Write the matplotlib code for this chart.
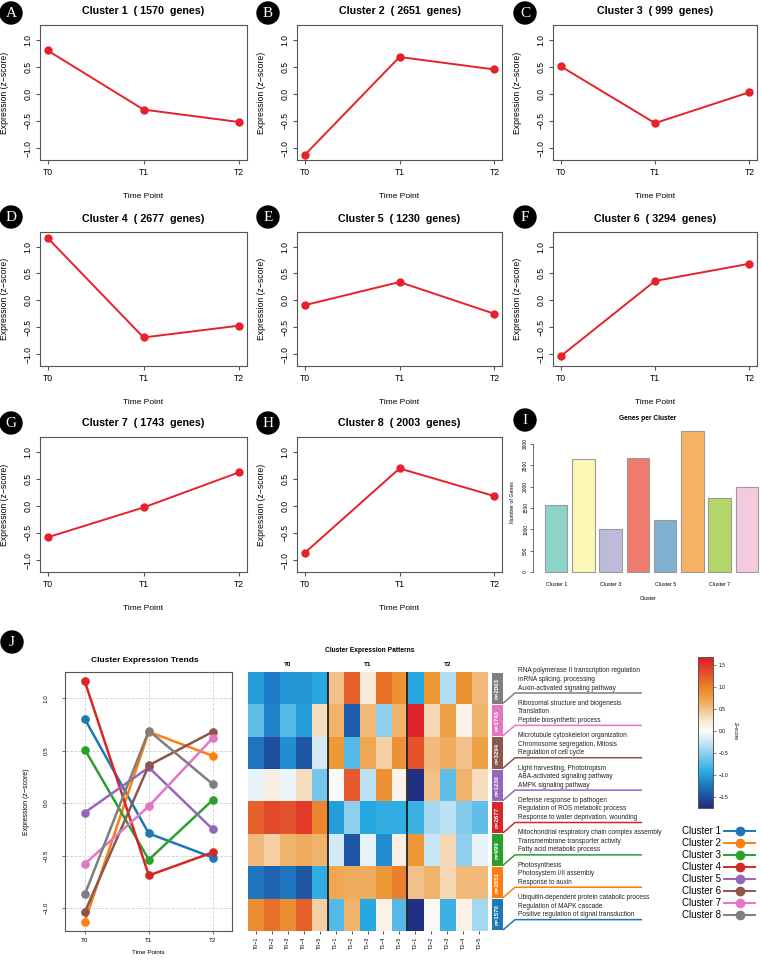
import numpy as np
import matplotlib
matplotlib.use('Agg')
import matplotlib.pyplot as plt
from matplotlib.colors import LinearSegmentedColormap, Normalize
from matplotlib.patches import Rectangle, Circle
from matplotlib.cm import ScalarMappable

plt.rcParams['font.family'] = ['Liberation Sans', 'DejaVu Sans']

W, H = 761, 965

# ---- data ----
time_points = ['T0', 'T1', 'T2']
cluster_names = ['Cluster %d' % i for i in range(1, 9)]
gene_counts = [1570, 2651, 999, 2677, 1230, 3294, 1743, 2003]
cluster_means = [
    [0.80, -0.29, -0.52],
    [-1.13, 0.68, 0.45],
    [0.51, -0.54, 0.03],
    [1.16, -0.69, -0.47],
    [-0.09, 0.34, -0.25],
    [-1.04, 0.36, 0.68],
    [-0.58, -0.03, 0.62],
    [-0.87, 0.69, 0.18],
]
cluster_colors = ['#1f77b4', '#ff7f0e', '#2ca02c', '#d62728',
                  '#9467bd', '#8c564b', '#e377c2', '#7f7f7f']
bar_colors = ['#8dd3c7', '#fbf7b5', '#bebada', '#ef7b6f',
              '#80b1d3', '#f6b262', '#b3d66a', '#f6cade']
sample_labels = ['T%d-%d' % (t, r) for t in range(3) for r in range(1, 6)]
heat_c1 = [0.9, 1.1, 0.9, 1.2, 0.4, -0.75, 0.6, -0.95, 0.1, -0.75, -1.7, 0.02, -0.85, 0.1, -0.4]
heat_c2 = [-1.25, -1.35, -1.25, -1.45, -0.9, 0.7, 0.65, 0.65, 0.8, 1.0, 0.5, 0.6, 0.35, 0.55, 0.55]
heat_c3 = [0.55, 0.4, 0.6, 0.65, 0.6, -0.2, -1.45, -0.1, -1.1, 0.15, 0.8, -0.25, 0.35, -0.5, -0.1]
heat_c4 = [1.2, 1.35, 1.3, 1.45, 0.95, -1.0, -0.5, -0.95, -0.9, -0.9, -0.85, -0.4, -0.3, -0.55, -0.7]
heat_c5 = [-0.1, 0.15, -0.08, 0.3, -0.6, 0.0, 1.25, -0.3, 0.85, 0.08, -1.7, 0.5, -0.7, 0.6, 0.3]
heat_c6 = [-1.25, -1.5, -1.1, -1.45, -0.2, 0.8, -0.75, 0.7, 0.4, 0.85, 1.3, 0.55, 0.65, 0.5, 0.75]
heat_c7 = [-0.7, -1.15, -0.75, -1.0, 0.3, 0.6, -1.4, 0.55, -0.5, 0.6, 1.6, 0.35, 0.75, 0.1, 0.6]
heat_c8 = [-1.0, -1.2, -1.05, -1.05, -0.95, 0.5, 1.2, 0.2, 1.1, 0.85, -0.95, 0.8, -0.35, 0.85, 0.55]
go_terms = [
    ['Ubiquitin-dependent protein catabolic process', 'Regulation of MAPK cascade',
     'Positive regulation of signal transduction'],
    ['Photosynthesis', 'Photosystem I/II assembly', 'Response to auxin'],
    ['Mitochondrial respiratory chain complex assembly', 'Transmembrane transporter activity',
     'Fatty acid metabolic process'],
    ['Defense response to pathogen', 'Regulation of ROS metabolic process',
     'Response to water deprivation, wounding'],
    ['Light harvesting, Phototropism', 'ABA-activated signaling pathway', 'AMPK signaling pathway'],
    ['Microtubule cytoskeleton organization', 'Chromosome segregation, Mitosis',
     'Regulation of cell cycle'],
    ['Ribosomal structure and biogenesis', 'Translation', 'Peptide biosynthetic process'],
    ['RNA polymerase II transcription regulation', 'mRNA splicing, processing',
     'Auxin-activated signaling pathway'],
]
z_ticks = [-1.0, -0.5, 0.0, 0.5, 1.0]
z_ticklabels = ['\u22121.0', '\u22120.5', '0.0', '0.5', '1.0']
cb_ticks = [-1.5, -1.0, -0.5, 0.0, 0.5, 1.0, 1.5]
cb_ticklabels = ['\u22121.5', '\u22121.0', '\u22120.5', '0.0', '0.5', '1.0', '1.5']

heat = np.array([heat_c1, heat_c2, heat_c3, heat_c4, heat_c5, heat_c6, heat_c7, heat_c8])

SP = '#555555'


def box(x0, y0, x1, y1):
    return [x0 / W, 1 - y1 / H, (x1 - x0) / W, (y1 - y0) / H]


def ftext(x, y, s, **kw):
    kw.setdefault('ha', 'center')
    kw.setdefault('va', 'center')
    fig.text(x / W, 1 - y / H, s, **kw)


fig = plt.figure(figsize=(W / 100, H / 100), dpi=100)

# ---- single cluster panels A-H ----
cols_x = [(40, 247), (297, 502), (553, 757)]
rows_y = [(25, 160), (232, 366), (437, 572)]
for k in range(8):
    r, c = divmod(k, 3)
    x0, x1 = cols_x[c]
    y0, y1 = rows_y[r]
    ax = fig.add_axes(box(x0, y0, x1, y1))
    ax.plot([1, 2, 3], cluster_means[k], color='#e8202a', lw=1.4, marker='o', ms=5)
    ax.set_xlim(0.92, 3.08)
    ax.set_ylim(-1.22, 1.27)
    ax.set_xticks([1, 2, 3], time_points)
    ax.set_yticks(z_ticks, z_ticklabels, rotation=90, va='center')
    ax.tick_params(labelsize=6.2, length=3, color=SP, pad=2.5)
    for s in ax.spines.values():
        s.set_color(SP)
    ftext((x0 + x1) / 2, y0 - 13.5, 'Cluster %d  ( %d  genes)' % (k + 1, gene_counts[k]),
          fontsize=7.7, fontweight='bold')
    ftext((x0 + x1) / 2, y1 + 36, 'Time Point', fontsize=6)
    ftext(x0 - 35, (y0 + y1) / 2, 'Expression (z\u2212score)', fontsize=6.2, rotation=90)

# ---- panel I: genes per cluster ----
axb = fig.add_axes(box(533, 430, 760, 576))
xb = np.arange(8)
axb.bar(xb, gene_counts, width=0.82, color=bar_colors, edgecolor='#9a9a9a', lw=0.8)
axb.set_xlim(-0.85, 7.48)
axb.set_ylim(-94, 3328)
for s in ['top', 'right', 'bottom']:
    axb.spines[s].set_visible(False)
axb.spines['left'].set_bounds(0, 3000)
axb.spines['left'].set_color(SP)
axb.spines['left'].set_linewidth(0.6)
axb.set_yticks(range(0, 3001, 500), [str(v) for v in range(0, 3001, 500)], rotation=90, va='center')
axb.set_xticks(xb[::2], cluster_names[::2])
axb.tick_params(axis='y', labelsize=3.5, length=2, color=SP, width=0.6, pad=1.5)
axb.tick_params(axis='x', labelsize=3.8, length=0, pad=4)
ftext(648, 418, 'Genes per Cluster', fontsize=4.8, fontweight='bold')
ftext(648, 598, 'Cluster', fontsize=3.8)
ftext(513, 502, 'Number of Genes', fontsize=3.8, rotation=90)

# ---- panel J: trends ----
axt = fig.add_axes(box(65, 672, 232, 931))
for k in range(8):
    axt.plot([1, 2, 3], cluster_means[k], color=cluster_colors[k], lw=1.8, marker='o', ms=5.2)
axt.set_xlim(0.69, 3.3)
axt.set_ylim(-1.22, 1.25)
axt.set_xticks([1, 2, 3], time_points)
axt.set_yticks(z_ticks, z_ticklabels, rotation=90, va='center')
axt.grid(True, ls='--', color='#d0d0d0', lw=0.6)
axt.set_axisbelow(True)
axt.tick_params(labelsize=4.5, length=2, color=SP, width=0.6)
axt.tick_params(axis='y', pad=10)
axt.tick_params(axis='x', pad=3)
for s in axt.spines.values():
    s.set_color(SP)
    s.set_linewidth(0.8)
ftext(145, 661, 'Cluster Expression Trends', fontsize=6, fontweight='bold')
ftext(27, 802, 'Expression (z\u2212score)', fontsize=5, rotation=90)
ftext(148, 952, 'Time Points', fontsize=4.5)

# ---- heatmap ----
node_vals = [-1.75, -1.5, -1.2, -0.95, -0.5, -0.2, 0.0, 0.25, 0.5, 0.8, 1.05, 1.3, 1.68]
node_cols = ['#232a7e', '#1e50a0', '#1f7cc6', '#27a9e1', '#8fcfee', '#d4ebf7', '#fbfbfb',
             '#f9e6d0', '#f2c189', '#ee9a38', '#ea7a2a', '#e4532a', '#e0192a']
vmin, vmax = node_vals[0], node_vals[-1]
cmap = LinearSegmentedColormap.from_list(
    'zs', list(zip([(v - vmin) / (vmax - vmin) for v in node_vals], node_cols)))
norm = Normalize(vmin, vmax)

axh = fig.add_axes(box(248, 672, 487, 931))
axh.imshow(heat[::-1], cmap=cmap, norm=norm, aspect='auto', interpolation='nearest')
axh.axvline(4.5, color='#111111', lw=1.2)
axh.axvline(9.5, color='#111111', lw=1.2)
for s in axh.spines.values():
    s.set_visible(False)
axh.set_yticks([])
axh.set_xticks(range(15), [s.replace('-', '\u2212') for s in sample_labels], rotation=90)
axh.tick_params(axis='x', labelsize=3.8, length=2.5, width=0.6, color='#333333', pad=1.5)
ftext(370, 650, 'Cluster Expression Patterns', fontsize=4.8, fontweight='bold')
for g in range(3):
    ftext(248 + (2.5 + 5 * g) * 239 / 15, 665, time_points[g], fontsize=4.6, fontweight='bold')

# ---- colorbar ----
cax = fig.add_axes(box(698, 657, 713, 808))
cb = fig.colorbar(ScalarMappable(norm=norm, cmap=cmap), cax=cax)
cb.set_ticks(cb_ticks, labels=cb_ticklabels)
cb.outline.set_edgecolor(SP)
cb.outline.set_linewidth(0.7)
cax.tick_params(labelsize=3.5, length=2, width=0.5, color=SP, pad=2)
ftext(735, 731, 'Z\u2212score', fontsize=3.5, rotation=270)

# ---- overlay: strip, GO terms, legend, panel letters ----
ov = fig.add_axes([0, 0, 1, 1])
ov.set_xlim(0, W)
ov.set_ylim(H, 0)
ov.axis('off')
ov.patch.set_alpha(0)

row_h = (931 - 672) / 8
for i in range(8):
    k = 7 - i
    top = 672 + i * row_h
    col = cluster_colors[k]
    ov.add_patch(Rectangle((492, top + 0.6), 11, row_h - 1.2, color=col, lw=0))
    ov.text(497.5, top + row_h / 2, 'n=%d' % gene_counts[k], color='white', fontsize=4.4,
            fontweight='bold', rotation=90, ha='center', va='center')
    for j, term in enumerate(go_terms[k]):
        ov.text(518, top - 1 + j * 8.5, term, fontsize=4.7, ha='left', va='center', color='#222222')
    ov.plot([503, 515, 642], [top + row_h - 1, top + 21, top + 21], color=col, lw=1.1,
            solid_capstyle='butt')

for k in range(8):
    y = 831 + k * 12.05
    ov.text(682, y, cluster_names[k], fontsize=7, ha='left', va='center')
    ov.plot([724, 755], [y, y], color=cluster_colors[k], lw=1.4)
    ov.plot([740], [y], marker='o', ms=6, color=cluster_colors[k])

letters = ['A', 'B', 'C', 'D', 'E', 'F', 'G', 'H', 'I', 'J']
letter_xy = [(11, 13), (268, 13), (525, 13), (11, 217), (268, 217), (525, 217),
             (11, 423), (268, 423), (525, 420), (12, 642)]
for lt, (lx, ly) in zip(letters, letter_xy):
    ov.add_patch(Circle((lx, ly), 11, color='black'))
    ov.text(lx, ly + 0.5, lt, color='white', fontsize=11, family='Liberation Serif',
            ha='center', va='center')

fig.savefig('out.png', dpi=100)
